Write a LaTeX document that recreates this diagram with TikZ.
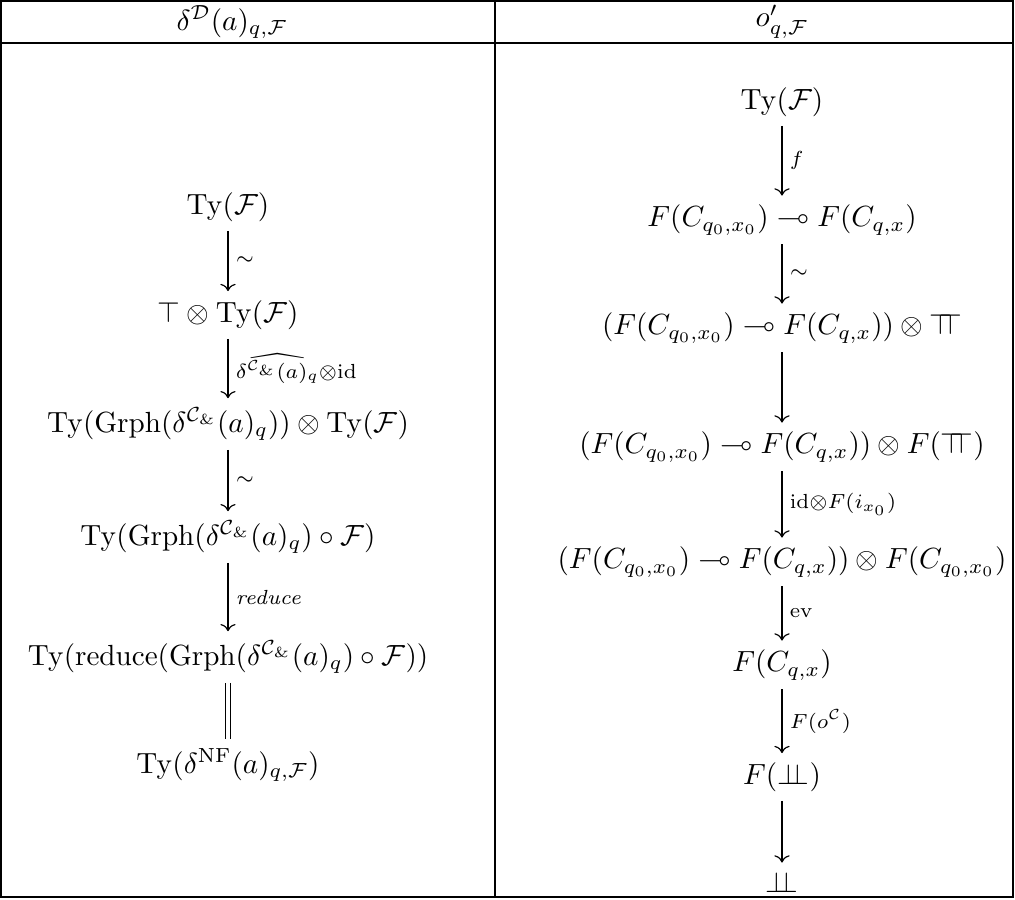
\documentclass[tikz,border=0pt]{standalone}
\usepackage{amsmath,amssymb}
\usetikzlibrary{arrows.meta,cd}
\newcommand\dbltop{\mathord{\top\mkern-8mu\top}}
\newcommand\dblbot{\mathord{\bot\mkern-8mu\bot}}
\begin{document}
\begin{tikzpicture}[x=0.343pt,y=-0.343pt,
  obj/.style={inner xsep=0pt, inner ysep=3pt},
  cdar/.style={line width=0.4pt, -{cm to}},
  eqar/.style={line width=0.4pt, double, double distance=1.3pt},
  lab/.style={right, inner sep=0pt, xshift=2.5pt},
  rulel/.style={line width=0.4pt}]
\useasboundingbox (0,0) rectangle (1015,900);
\draw[rulel] (1,1) rectangle (1013,897);
\draw[rulel] (1,43) -- (1013,43);
\draw[rulel] (495,1) -- (495,897);
\node (h1) at (232,22) {$\delta^{\mathcal D}(a)_{q,\mathcal F}$};
\node (h2) at (782,22) {$o'_{q,\mathcal F}$};
% left column
\node[obj] (l1) at (228,207) {$\mathrm{Ty}(\mathcal F)$};
\node[obj] (l2) at (228,315) {$\top\otimes\mathrm{Ty}(\mathcal F)$};
\node[obj] (l3) at (228,424) {$\mathrm{Ty}(\mathrm{Grph}(\delta^{\mathcal C_\&}(a)_q))\otimes\mathrm{Ty}(\mathcal F)$};
\node[obj] (l4) at (228,537) {$\mathrm{Ty}(\mathrm{Grph}(\delta^{\mathcal C_\&}(a)_q)\circ\mathcal F)$};
\node[obj] (l5) at (228,657) {$\mathrm{Ty}(\mathrm{reduce}(\mathrm{Grph}(\delta^{\mathcal C_\&}(a)_q)\circ\mathcal F))$};
\node[obj] (l6) at (228,765) {$\mathrm{Ty}(\delta^{\mathrm{NF}}(a)_{q,\mathcal F})$};
\draw[cdar] (l1) -- node[lab] {$\scriptstyle\sim$} (l2);
\draw[cdar] (l2) -- node[lab] {$\scriptstyle\widehat{\delta^{\mathcal C_\&}(a)_q}\otimes\mathrm{id}$} (l3);
\draw[cdar] (l3) -- node[lab] {$\scriptstyle\sim$} (l4);
\draw[cdar] (l4) -- node[lab] {$\scriptstyle\mathit{reduce}$} (l5);
\draw[eqar] (l5) -- (l6);
% right column
\node[obj] (r1) at (782,102) {$\mathrm{Ty}(\mathcal F)$};
\node[obj] (r2) at (782,220) {$F(C_{q_0,x_0})\multimap F(C_{q,x})$};
\node[obj] (r3) at (782,328) {$(F(C_{q_0,x_0})\multimap F(C_{q,x}))\otimes\dbltop$};
\node[obj] (r4) at (782,447) {$(F(C_{q_0,x_0})\multimap F(C_{q,x}))\otimes F(\dbltop)$};
\node[obj] (r5) at (782,562) {$(F(C_{q_0,x_0})\multimap F(C_{q,x}))\otimes F(C_{q_0,x_0})$};
\node[obj] (r6) at (782,665) {$F(C_{q,x})$};
\node[obj] (r7) at (782,777) {$F(\dblbot)$};
\node[obj] (r8) at (782,882) {$\dblbot$};
\draw[cdar] (r1) -- node[lab] {$\scriptstyle f$} (r2);
\draw[cdar] (r2) -- node[lab] {$\scriptstyle\sim$} (r3);
\draw[cdar] (r3) -- (r4);
\draw[cdar] (r4) -- node[lab] {$\scriptstyle\mathrm{id}\otimes F(i_{x_0})$} (r5);
\draw[cdar] (r5) -- node[lab] {$\scriptstyle\mathrm{ev}$} (r6);
\draw[cdar] (r6) -- node[lab] {$\scriptstyle F(o^{\mathcal C})$} (r7);
\draw[cdar] (r7) -- (r8);
\end{tikzpicture}
\end{document}
